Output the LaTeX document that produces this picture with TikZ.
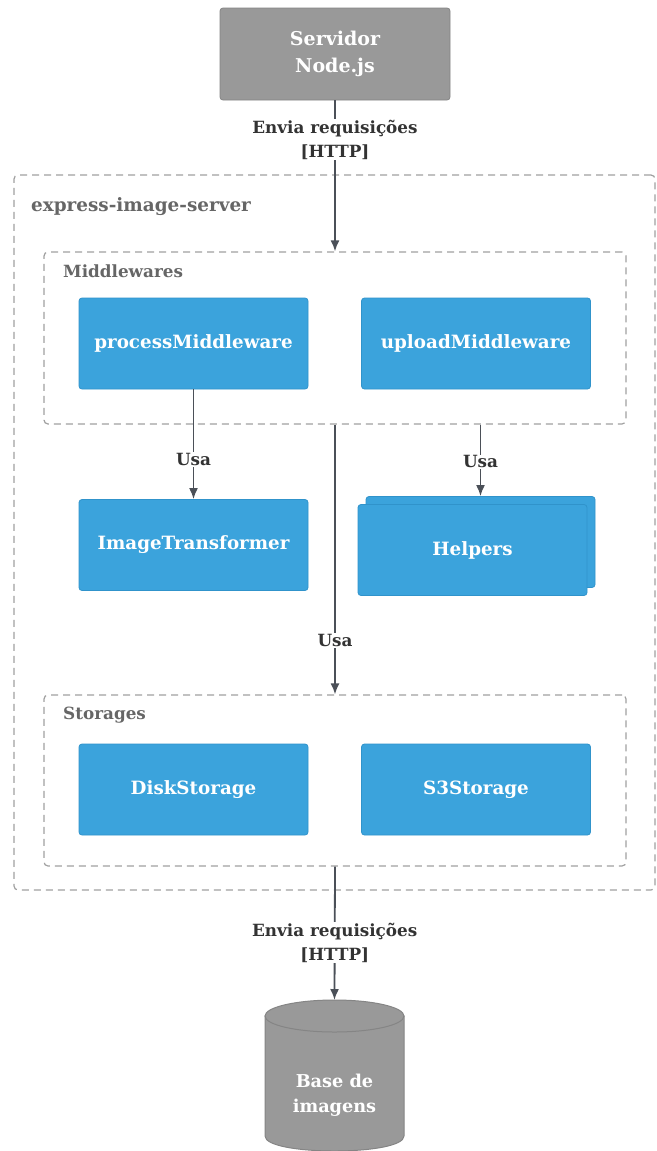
\documentclass[tikz,border=0pt]{standalone}
\usepackage{fontspec}
\setmainfont{DejaVu Serif}
\usetikzlibrary{arrows.meta}

\definecolor{azul}{HTML}{3BA3DC}
\definecolor{azulb}{HTML}{3093CB}
\definecolor{cinza}{HTML}{999999}
\definecolor{cinzab}{HTML}{858585}
\definecolor{seta}{HTML}{4B5058}
\definecolor{tracejado}{HTML}{A0A0A0}
\definecolor{titulo}{HTML}{666666}

\tikzset{
    comp/.style={rectangle, rounded corners=3pt, fill=azul, draw=azulb, line width=0.8pt,
        text=white, font=\bfseries\fontsize{18.3}{22}\selectfont,
        minimum width=229pt, minimum height=91pt, inner sep=0pt},
    externo/.style={rectangle, rounded corners=3pt, fill=cinza, draw=cinzab, line width=0.8pt,
        text=white, font=\bfseries\fontsize{19}{27}\selectfont, align=center,
        minimum width=230pt, minimum height=92pt, inner sep=0pt},
    grupo/.style={rectangle, rounded corners=4pt, draw=tracejado, line width=1.2pt,
        dash pattern=on 7pt off 5pt, inner sep=0pt},
    grupotxt/.style={anchor=west, text=titulo, font=\bfseries\fontsize{16.8}{20}\selectfont, inner sep=0pt},
    fluxo/.style={draw=seta, line width=1.8pt, -{Latex[length=11pt,width=9pt]}},
    rotulo/.style={fill=white, text=black!80, font=\bfseries\fontsize{16.8}{24}\selectfont,
        align=center, inner sep=1pt}
}

\begin{document}
\begin{tikzpicture}[x=1pt,y=-1pt]
\fill[white] (0,0) rectangle (656,1151);
\useasboundingbox (0,0) rectangle (656,1151);

% Grupos
\node[grupo, minimum width=641pt, minimum height=715pt] (app) at (334.5,532.5){};
\node[grupotxt, font=\bfseries\fontsize{18.4}{22}\selectfont] (apptxt) at (31,207){express-image-server};
\node[grupo, minimum width=582pt, minimum height=172pt] (mw) at (335,338){};
\node[grupotxt] (mwtxt) at (63,271){Middlewares};
\node[grupo, minimum width=582pt, minimum height=171pt] (st) at (335,780.5){};
\node[grupotxt] (sttxt) at (63,715){Storages};

% Componentes
\node[externo] (srv) at (335,54){Servidor\\Node.js};
\node[comp] (proc) at (193.5,343.5){processMiddleware};
\node[comp] (upld) at (476,343.5){uploadMiddleware};
\node[comp] (imgt) at (193.5,545){ImageTransformer};
\node[comp] (helpb) at (480.5,542){};
\node[comp] (help) at (472.5,550){Helpers};
\node[comp] (disk) at (193.5,789.5){DiskStorage};
\node[comp] (s3) at (476,789.5){S3Storage};

% Base de imagens
\fill[cinza, draw=cinzab, line width=1pt] (265,1016) -- (265,1136)
    .. controls (265,1156) and (404,1156) .. (404,1136) -- (404,1016) -- cycle;
\draw[fill=cinza, draw=cinzab, line width=1pt] (334.5,1016) ellipse [x radius=69.5pt, y radius=16pt];
\node[text=white, font=\bfseries\fontsize{17.7}{25}\selectfont, align=center] (db) at (334.5,1095){Base de\\imagens};
\coordinate (dbtop) at (334.5,1000);

% Conexoes
\draw[fluxo] (srv.south) -- (mw.north) node[rotulo, pos=0.26]{Envia requisições\\{}[HTTP]};
\draw[fluxo] (proc.south) -- (imgt.north) node[rotulo, pos=0.64]{Usa};
\draw[fluxo] (mw.south -| helpb.north) -- (helpb.north) node[rotulo, pos=0.52]{Usa};
\draw[fluxo] (mw.south) -- (st.north) node[rotulo, pos=0.8]{Usa};
\draw[fluxo] (st.south) -- (dbtop) node[rotulo, pos=0.57]{Envia requisições\\{}[HTTP]};
\end{tikzpicture}
\end{document}
